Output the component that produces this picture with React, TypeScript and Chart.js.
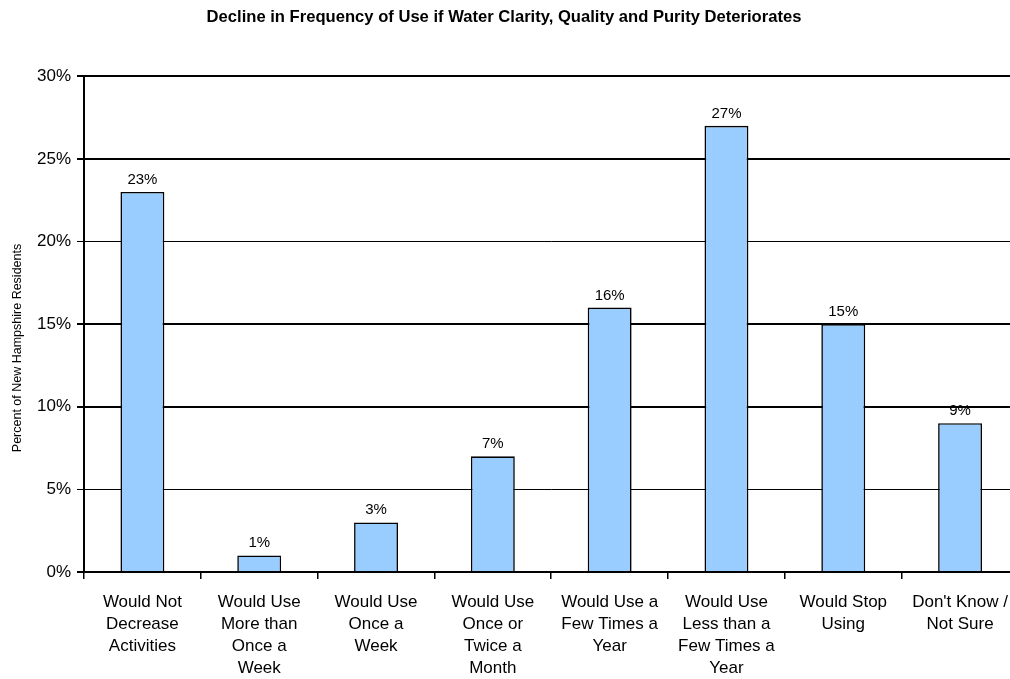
import React, { useEffect, useRef } from "react";
import { Chart, registerables } from "chart.js";

Chart.register(...registerables);

const categories: string[][] = [
  ["Would Not", "Decrease", "Activities"],
  ["Would Use", "More than", "Once a", "Week"],
  ["Would Use", "Once a", "Week"],
  ["Would Use", "Once or", "Twice a", "Month"],
  ["Would Use a", "Few Times a", "Year"],
  ["Would Use", "Less than a", "Few Times a", "Year"],
  ["Would Stop", "Using"],
  ["Don't Know /", "Not Sure"],
];
const percentValues: number[] = [23, 1, 3, 7, 16, 27, 15, 9];
const titleText = "Decline in Frequency of Use if Water Clarity, Quality and Purity Deteriorates";
const yAxisTitle = "Percent of New Hampshire Residents";

const FONT = "Arial, 'Liberation Sans', sans-serif";

const valueLabels = {
  id: "valueLabels",
  afterDatasetsDraw(chart: any) {
    const ctx = chart.ctx;
    const meta = chart.getDatasetMeta(0);
    ctx.save();
    ctx.font = `15px ${FONT}`;
    ctx.fillStyle = "#000";
    ctx.textAlign = "center";
    ctx.textBaseline = "alphabetic";
    meta.data.forEach((bar: any, i: number) => {
      ctx.fillText(percentValues[i] + "%", bar.x, bar.y - 8);
    });
    ctx.restore();
  },
};

const textPlugin = {
  id: "textPlugin",
  afterDraw(chart: any) {
    const ctx = chart.ctx;
    ctx.save();
    ctx.font = `bold 16.6px ${FONT}`;
    ctx.fillStyle = "#000";
    ctx.textAlign = "center";
    ctx.textBaseline = "middle";
    ctx.fillText(titleText, 504, 17);
    ctx.translate(18, 348);
    ctx.rotate(-Math.PI / 2);
    ctx.font = `12.5px ${FONT}`;
    ctx.fillText(yAxisTitle, 0, 0);
    ctx.restore();
  },
};

export default function App() {
  const ref = useRef<HTMLCanvasElement>(null);
  useEffect(() => {
    const prev = document.body.style.margin;
    document.body.style.margin = "0";
    const chart = new Chart(ref.current!, {
      type: "bar",
      data: {
        labels: categories,
        datasets: [
          {
            data: percentValues,
            backgroundColor: "#99CCFF",
            borderColor: "#000",
            borderWidth: 1.6,
            barPercentage: 0.376,
            categoryPercentage: 1,
          },
        ],
      },
      options: {
        responsive: false,
        animation: false,
        devicePixelRatio: 1,
        layout: { padding: { left: 0, right: 0, top: 0, bottom: 0 } },
        plugins: {
          legend: { display: false },
          tooltip: { enabled: false },
          title: {
            display: true,
            text: titleText,
            color: "rgba(0,0,0,0)",
            font: { family: FONT, size: 16, weight: "bold" },
            padding: { top: 8, bottom: 49 },
          },
        },
        scales: {
          x: {
            grid: {
              offset: true,
              drawOnChartArea: false,
              drawTicks: true,
              tickLength: 7,
              color: "#000",
              lineWidth: 1.5,
            },
            border: { display: true, color: "#000", width: 2 },
            ticks: {
              color: "#000",
              font: { family: FONT, size: 17, lineHeight: 1.3 },
              padding: 12,
              maxRotation: 0,
              autoSkip: false,
            },
            afterFit: (scale: any) => {
              scale.height = 107;
            },
          },
          y: {
            min: 0,
            max: 30,
            ticks: {
              stepSize: 5,
              color: "#000",
              font: { family: FONT, size: 17 },
              padding: 6,
              callback: (v: any) => v + "%",
            },
            grid: {
              color: "#000",
              tickLength: 7,
              lineWidth: (c: any) => {
                const v = c.tick ? c.tick.value : 0;
                return v === 20 || v === 5 ? 1 : 2;
              },
            },
            border: { display: true, color: "#000", width: 2 },
            title: { display: false },
            afterFit: (scale: any) => {
              scale.width = 84;
            },
          },
        },
      },
      plugins: [valueLabels, textPlugin],
    });
    return () => {
      chart.destroy();
      document.body.style.margin = prev;
    };
  }, []);
  return (
    <div
      style={{
        position: "fixed",
        left: 0,
        top: 0,
        width: 1010,
        height: 679,
        overflow: "hidden",
        background: "#fff",
      }}
    >
      <canvas ref={ref} width={1020} height={679} style={{ display: "block" }} />
    </div>
  );
}
